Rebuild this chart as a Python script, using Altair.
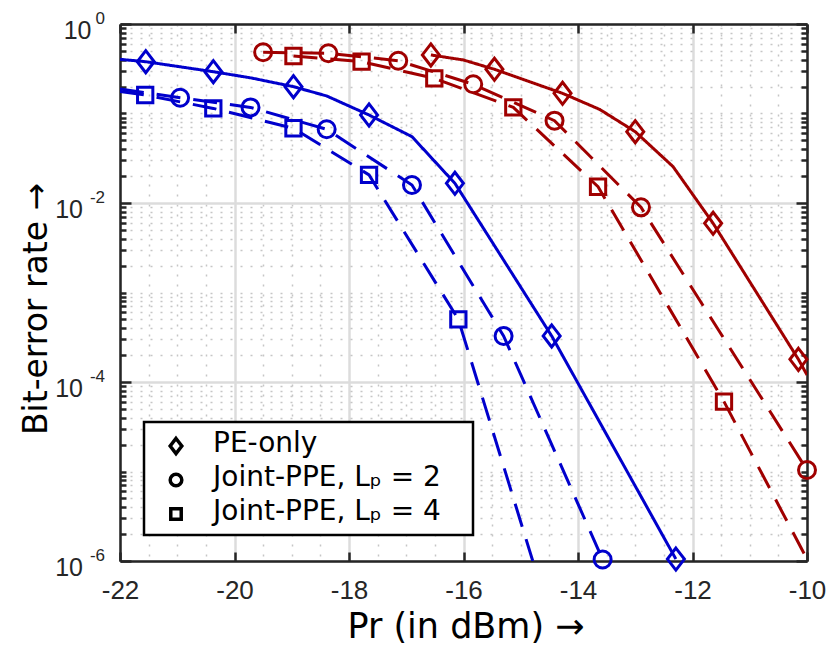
import altair as alt
import pandas as pd

# ---------------- data ----------------
series_names = ["PE-only", "Joint-PPE, Lₚ = 2", "Joint-PPE, Lₚ = 4"]
groups = ["blue", "red"]
group_colors = ["#0000CC", "#A00000"]

pe_blue_line_x = [-22.0, -21.55, -20.37, -19.70, -18.97, -18.39, -17.65, -16.90, -16.15, -14.46, -12.29]
pe_blue_line_y = [0.403, 0.379, 0.293, 0.249, 0.1995, 0.157, 0.0962, 0.0551, 0.0166, 3.27e-4, 1.05e-6]
pe_blue_mark_x = [-21.55, -20.37, -18.97, -17.65, -16.15, -14.46, -12.29]
pe_blue_mark_y = [0.379, 0.293, 0.1995, 0.0962, 0.0166, 3.27e-4, 1.05e-6]

lp2_blue_line_x = [-22.0, -20.95, -19.72, -18.39, -16.90, -15.30, -13.57]
lp2_blue_line_y = [0.188, 0.150, 0.117, 0.0666, 0.0159, 3.27e-4, 1.04e-6]
lp2_blue_mark_x = [-20.95, -19.72, -18.39, -16.90, -15.30, -13.57]
lp2_blue_mark_y = [0.150, 0.117, 0.0666, 0.0159, 3.27e-4, 1.04e-6]

lp4_blue_line_x = [-22.0, -21.56, -20.37, -18.97, -17.65, -16.09, -14.79]
lp4_blue_line_y = [0.176, 0.161, 0.114, 0.0684, 0.0206, 5.0e-4, 1.0e-6]
lp4_blue_mark_x = [-21.56, -20.37, -18.97, -17.65, -16.09]
lp4_blue_mark_y = [0.161, 0.114, 0.0684, 0.0206, 5.0e-4]

pe_red_line_x = [-16.57, -16.00, -15.46, -14.27, -13.62, -13.00, -12.34, -11.64, -10.15, -10.0]
pe_red_line_y = [0.451, 0.396, 0.312, 0.168, 0.111, 0.0626, 0.0255, 5.93e-3, 1.79e-4, 1.2e-4]
pe_red_mark_x = [-16.57, -15.46, -14.27, -13.00, -11.64, -10.15]
pe_red_mark_y = [0.451, 0.312, 0.168, 0.0626, 5.93e-3, 1.79e-4]

lp2_red_line_x = [-19.50, -18.36, -17.14, -15.83, -14.41, -12.90, -10.0]
lp2_red_line_y = [0.483, 0.471, 0.389, 0.212, 0.0831, 8.95e-3, 1.04e-5]
lp2_red_mark_x = [-19.50, -18.36, -17.14, -15.83, -14.41, -12.90, -10.0]
lp2_red_mark_y = [0.483, 0.471, 0.389, 0.212, 0.0831, 8.95e-3, 1.04e-5]

lp4_red_line_x = [-18.97, -17.78, -16.51, -15.13, -13.65, -11.45, -10.0]
lp4_red_line_y = [0.439, 0.379, 0.247, 0.117, 0.0152, 6.03e-5, 1.05e-6]
lp4_red_mark_x = [-18.97, -17.78, -16.51, -15.13, -13.65, -11.45]
lp4_red_mark_y = [0.439, 0.379, 0.247, 0.117, 0.0152, 6.03e-5]

x_major = [-22, -20, -18, -16, -14, -12, -10]
y_major = [1, 1e-2, 1e-4, 1e-6]
y_exponents = ["0", "-2", "-4", "-6"]

# ---------------- tables ----------------
def rows(xs, ys, series, grp):
    return [{"x": a, "y": b, "series": series, "grp": grp, "key": grp + "|" + series}
            for a, b in zip(xs, ys)]

lines = pd.DataFrame(
    rows(pe_blue_line_x, pe_blue_line_y, series_names[0], "blue")
    + rows(lp2_blue_line_x, lp2_blue_line_y, series_names[1], "blue")
    + rows(lp4_blue_line_x, lp4_blue_line_y, series_names[2], "blue")
    + rows(pe_red_line_x, pe_red_line_y, series_names[0], "red")
    + rows(lp2_red_line_x, lp2_red_line_y, series_names[1], "red")
    + rows(lp4_red_line_x, lp4_red_line_y, series_names[2], "red")
)
marks = pd.DataFrame(
    rows(pe_blue_mark_x, pe_blue_mark_y, series_names[0], "blue")
    + rows(lp2_blue_mark_x, lp2_blue_mark_y, series_names[1], "blue")
    + rows(lp4_blue_mark_x, lp4_blue_mark_y, series_names[2], "blue")
    + rows(pe_red_mark_x, pe_red_mark_y, series_names[0], "red")
    + rows(lp2_red_mark_x, lp2_red_mark_y, series_names[1], "red")
    + rows(lp4_red_mark_x, lp4_red_mark_y, series_names[2], "red")
)
ylab = pd.DataFrame({"v": y_major, "e": y_exponents})
legend_df = pd.DataFrame({"series": series_names, "row": [0, 1, 2]})

x_minor = [v / 2 for v in range(-44, -19) if v % 4 != 0]
y_minor = [m * 10.0 ** k for k in range(-6, 0) for m in range(1, 10)
           if not (m == 1 and k in (-6, -4, -2))]

# ---------------- styling ----------------
W, H = 687, 537
AX = "#262626"
xs = alt.Scale(domain=[-22, -10], nice=False, zero=False)
ys = alt.Scale(type="log", domain=[1e-6, 1], nice=False)

DIAMOND = "M0,-1.3L1,0L0,1.3L-1,0Z"
SQUARE = "M-0.9,-0.9H0.9V0.9H-0.9Z"
shape_scale = alt.Scale(domain=series_names, range=[DIAMOND, "circle", SQUARE])
color_scale = alt.Scale(domain=groups, range=group_colors)


def axis_layer(xax, yax):
    return alt.Chart(marks).mark_point(opacity=0).encode(
        x=alt.X("x:Q", scale=xs, axis=xax),
        y=alt.Y("y:Q", scale=ys, axis=yax),
    )


def ticks_axis(orient, offset, values, size, domain=False):
    return alt.Axis(orient=orient, offset=offset, values=values, labels=False,
                    ticks=True, tickSize=size, tickWidth=2.5, tickColor=AX,
                    domain=domain, domainColor=AX, domainWidth=2.5,
                    grid=False, title="")


def minor_grid(orient, values):
    return alt.Axis(orient=orient, values=values, labels=False, ticks=False,
                    domain=False, grid=True, gridColor="#c6c6c6",
                    gridDash=[2, 8], gridWidth=1.5, title="")


x_label_axis = alt.Axis(
    orient="bottom", values=x_major, labelExpr="toString(datum.value)",
    labelFont="Liberation Sans", labelFontSize=26, labelColor=AX,
    labelPadding=16, labelFlush=False, labelOverlap=False,
    ticks=False, domain=True, domainColor=AX, domainWidth=2.5,
    grid=True, gridColor="#dcdcdc", gridWidth=2.5,
    title="Pr (in dBm) →", titleFont="DejaVu Sans", titleFontSize=35,
    titleFontWeight="normal", titleColor="black", titleX=W / 2 + 2, titleY=76,
    titleAlign="center", titleBaseline="alphabetic",
)
y_label_axis = alt.Axis(
    orient="left", values=y_major, labels=False, ticks=False,
    domain=True, domainColor=AX, domainWidth=2.5,
    grid=True, gridColor="#dcdcdc", gridWidth=2.5,
    title="Bit-error rate →", titleFont="DejaVu Sans", titleFontSize=33,
    titleFontWeight="normal", titleColor="black", titleX=-84, titleY=H / 2 + 16,
    titleAngle=270, titleAlign="center", titleBaseline="middle",
)

layers = [
    axis_layer(minor_grid("bottom", x_minor), minor_grid("left", y_minor)),
    axis_layer(x_label_axis, y_label_axis),
    axis_layer(ticks_axis("top", -H, x_major, 9), ticks_axis("right", -W, y_major, 11)),
    axis_layer(ticks_axis("bottom", -H, x_major, 9, domain=True),
               ticks_axis("right", -W, y_minor, 6)),
    axis_layer(None, ticks_axis("left", -W, y_major, 11, domain=True)),
    axis_layer(None, ticks_axis("left", -W, y_minor, 6)),
]

line_layer = alt.Chart(lines).mark_line(strokeWidth=3, clip=True).encode(
    x=alt.X("x:Q", scale=xs, axis=None),
    y=alt.Y("y:Q", scale=ys, axis=None),
    color=alt.Color("grp:N", scale=color_scale, legend=None),
    strokeDash=alt.StrokeDash("series:N", scale=alt.Scale(domain=series_names,
                              range=[[1, 0], [24, 13], [24, 13]]), legend=None),
    detail="key:N",
)

point_layer = alt.Chart(marks).mark_point(filled=False, strokeWidth=3, size=289, opacity=1).encode(
    x=alt.X("x:Q", scale=xs, axis=None),
    y=alt.Y("y:Q", scale=ys, axis=None),
    color=alt.Color("grp:N", scale=color_scale, legend=None),
    shape=alt.Shape("series:N", scale=shape_scale, legend=None),
)

exp_layer = alt.Chart(ylab).mark_text(
    align="right", baseline="middle", font="Liberation Sans", fontSize=17,
    color=AX, dy=-5,
).encode(x=alt.value(-15), y=alt.Y("v:Q", scale=ys, axis=None), text="e:N")

base_layer = alt.Chart(ylab).transform_calculate(
    xb="-20 - 8.5 * length(datum.e)"
).mark_text(
    align="right", baseline="middle", font="Liberation Sans", fontSize=25,
    color=AX, dy=7,
).encode(x=alt.X("xb:Q", scale=None), y=alt.Y("v:Q", scale=ys, axis=None),
         text=alt.value("10"))

# ---------------- legend (drawn box, symbols, labels) ----------------
legend_box = alt.Chart(legend_df).transform_filter("datum.row == 0").mark_rect(
    fill="white", stroke="black", strokeWidth=2.5
).encode(x=alt.value(24), x2=alt.value(353), y=alt.value(398), y2=alt.value(511))

legend_rows = alt.Chart(legend_df).transform_calculate(ly="422 + 34 * datum.row")

legend_symbols = legend_rows.mark_point(
    filled=False, strokeWidth=3.5, size=135, color="black", opacity=1
).encode(
    x=alt.value(56), y=alt.Y("ly:Q", scale=None),
    shape=alt.Shape("series:N", scale=shape_scale, legend=None),
)

legend_text = legend_rows.mark_text(
    align="left", baseline="middle", font="DejaVu Sans", fontSize=28, color="black", dy=-2
).encode(x=alt.value(93), y=alt.Y("ly:Q", scale=None), text="series:N")

chart = alt.layer(*layers, line_layer, point_layer, exp_layer, base_layer,
                  legend_box, legend_symbols, legend_text).resolve_axis(
    x="independent", y="independent"
).properties(
    width=W, height=H,
    padding={"left": 120, "top": 24, "right": 21, "bottom": 91},
    autosize=alt.AutoSizeParams(type="none"),
    background="white",
).configure_view(strokeWidth=0)

chart.save("out.html", embed_options={"renderer": "svg", "actions": False})
